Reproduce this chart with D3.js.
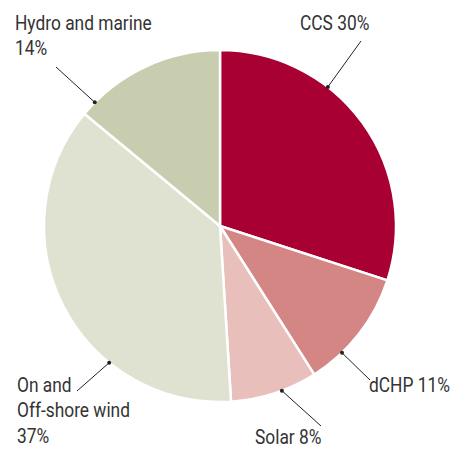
<!DOCTYPE html>
<html>
<head>
<meta charset="utf-8">
<script src="https://cdn.jsdelivr.net/npm/d3@7"></script>
<style>
  html, body { margin: 0; padding: 0; background: #fff; }
  svg text { font-family: "Roboto", "Liberation Sans", sans-serif; fill: #333; }
</style>
</head>
<body>
<svg id="chart" width="460" height="449"></svg>
<script>
// Share of each technology, clockwise from 12 o'clock
const categories = ["CCS", "dCHP", "Solar", "On and Off-shore wind", "Hydro and marine"];
const shares = [30, 11, 8, 37, 14];
const colours = ["#a80033", "#d38684", "#e9bfbc", "#dfe2d0", "#c9cdb0"];
// Label lines for each slice
const labelLines = [
  ["CCS 30%"],
  ["dCHP 11%"],
  ["Solar 8%"],
  ["On and", "Off-shore wind", "37%"],
  ["Hydro and marine", "14%"]
];

const svg = d3.select("#chart");
const cx = 220, cy = 226, radius = 176;

const pie = d3.pie().sort(null).value(d => d.value);
const arc = d3.arc().innerRadius(0).outerRadius(radius);
const data = categories.map((c, i) => ({ name: c, value: shares[i], colour: colours[i], lines: labelLines[i] }));
const arcs = pie(data);

const g = svg.append("g").attr("transform", `translate(${cx},${cy})`);
g.selectAll("path")
  .data(arcs)
  .join("path")
  .attr("d", arc)
  .attr("fill", d => d.data.colour)
  .attr("stroke", "#fff")
  .attr("stroke-width", 2.5)
  .attr("stroke-linejoin", "round");

// Leader placement: position on rim (fraction through the slice), outer end of line, label origin
const leaders = [
  { t: 0.35, end: [361, 41], text: [300, 30] },
  { t: 0.71, end: [370, 380], text: [369, 392] },
  { t: 0.41, end: [321, 426], text: [255, 444] },
  { t: 0.32, end: [77, 391], text: [17, 392] },
  { t: 0.10, end: [56, 67], text: [15, 30] }
];

const lineH = 25.5;
const squeeze = 0.89; // condensed look for the labels
arcs.forEach((a, i) => {
  const L = leaders[i];
  const ang = a.startAngle + (a.endAngle - a.startAngle) * L.t;
  const rx = cx + radius * Math.sin(ang);
  const ry = cy - radius * Math.cos(ang);
  svg.append("line")
    .attr("x1", rx).attr("y1", ry)
    .attr("x2", L.end[0]).attr("y2", L.end[1])
    .attr("stroke", "#222").attr("stroke-width", 1);
  svg.append("circle").attr("cx", rx).attr("cy", ry).attr("r", 2).attr("fill", "#222");
  const t = svg.append("text")
    .attr("transform", `translate(${L.text[0]},${L.text[1]}) scale(${squeeze},1)`)
    .attr("font-size", 19.5);
  a.data.lines.forEach((ln, j) => {
    t.append("tspan").attr("x", 0).attr("y", j * lineH).text(ln);
  });
});
</script>
</body>
</html>
